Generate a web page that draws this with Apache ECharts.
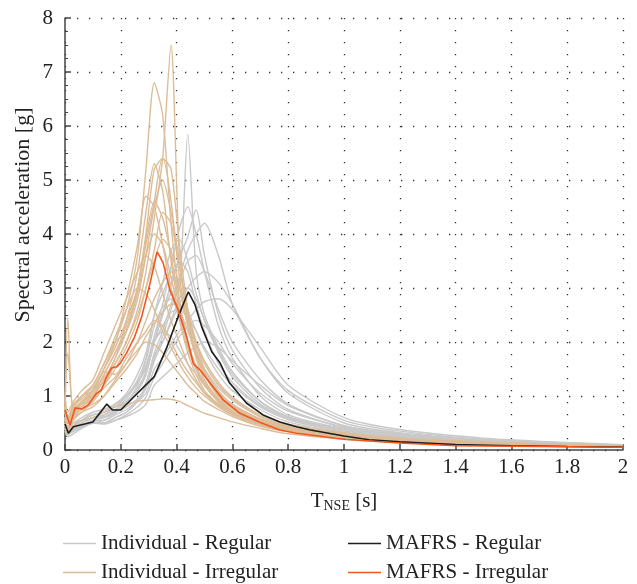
<!DOCTYPE html>
<html><head><meta charset="utf-8">
<script src="https://cdn.jsdelivr.net/npm/echarts@6/dist/echarts.min.js"></script>
<style>html,body{margin:0;padding:0;background:#fff}#c{width:637px;height:584px}</style>
</head><body><div id="c"></div>
<script>
// Period grid shared by the individual spectra [s]
const periods = [0,0.01,0.03,0.06,0.1,0.14,0.18,0.22,0.26,0.29,0.32,0.35,0.38,0.41,0.44,0.47,0.5,0.55,0.6,0.7,0.8,1.0,1.2,1.5,1.8,2.0];

// Individual - Regular spectra [g]
const reg01 = [0.4,0.3,0.35,0.45,0.55,0.6,0.7,0.85,1.1,1.4,2.0,2.5,2.9,3.0,5.85,3.3,2.5,1.9,1.45,0.9,0.6,0.38,0.25,0.15,0.1,0.08];
const reg02 = [0.5,0.4,0.45,0.5,0.6,0.65,0.75,0.9,1.15,1.45,2.1,2.7,3.4,4.1,4.5,4.0,3.3,2.3,1.7,1.0,0.65,0.4,0.27,0.16,0.11,0.08];
const reg03 = [0.5,0.35,0.4,0.5,0.6,0.6,0.7,0.8,0.95,1.2,1.8,2.2,2.7,3.2,3.7,4.0,4.2,3.6,2.7,1.7,1.05,0.5,0.32,0.19,0.13,0.09];
const reg04 = [0.45,0.3,0.4,0.5,0.6,0.65,0.8,1.0,1.3,1.7,2.5,3.1,3.7,3.9,3.5,2.9,2.4,1.8,1.35,0.85,0.6,0.37,0.25,0.15,0.1,0.07];
const reg05 = [0.4,0.3,0.35,0.45,0.5,0.5,0.6,0.7,0.9,1.15,1.7,2.1,2.6,3.1,3.5,3.6,3.3,2.6,2.0,1.3,0.85,0.45,0.3,0.18,0.12,0.08];
const reg06 = [0.6,0.4,0.5,0.55,0.65,0.7,0.8,0.9,1.05,1.25,1.75,2.0,2.35,2.7,3.0,3.2,3.3,3.1,2.7,1.7,1.1,0.55,0.35,0.2,0.13,0.09];
const reg07 = [0.5,0.35,0.45,0.55,0.7,0.75,0.85,1.05,1.4,1.8,2.5,2.9,3.2,3.0,2.6,2.2,1.85,1.4,1.1,0.75,0.52,0.33,0.22,0.14,0.09,0.07];
const reg08 = [0.35,0.25,0.3,0.4,0.5,0.5,0.6,0.7,0.9,1.15,1.65,2.0,2.4,2.8,3.0,2.8,2.4,1.85,1.4,0.9,0.62,0.38,0.25,0.15,0.1,0.07];
const reg09 = [0.45,0.3,0.35,0.45,0.55,0.55,0.65,0.75,0.9,1.05,1.5,1.7,1.95,2.2,2.4,2.6,2.75,2.8,2.6,1.9,1.2,0.6,0.38,0.22,0.14,0.1];
const reg10 = [0.55,0.4,0.5,0.6,0.7,0.75,0.85,1.0,1.25,1.5,2.0,2.3,2.55,2.6,2.45,2.2,1.9,1.5,1.2,0.8,0.56,0.35,0.24,0.15,0.1,0.07];
const reg11 = [0.4,0.28,0.35,0.42,0.5,0.48,0.55,0.65,0.8,0.98,1.35,1.6,1.85,2.1,2.3,2.4,2.3,2.0,1.6,1.05,0.72,0.42,0.28,0.17,0.11,0.08];
const reg12 = [0.5,0.38,0.45,0.55,0.65,0.7,0.8,0.95,1.25,1.55,2.0,2.2,2.1,1.85,1.6,1.4,1.2,0.95,0.78,0.55,0.4,0.27,0.19,0.12,0.08,0.06];
const reg13 = [0.45,0.3,0.38,0.45,0.52,0.5,0.55,0.62,0.72,0.85,1.2,1.35,1.5,1.65,1.8,1.92,2.0,1.9,1.65,1.2,0.82,0.45,0.3,0.18,0.12,0.08];
const reg14 = [0.5,0.3,0.4,0.5,0.6,0.62,0.72,0.85,1.1,1.4,2.0,2.5,3.1,3.5,3.3,2.7,2.2,1.6,1.25,0.82,0.58,0.36,0.24,0.15,0.1,0.07];
const reg15 = [0.6,0.45,0.5,0.55,0.65,0.7,0.85,1.0,1.25,1.55,2.1,2.55,3.05,3.55,3.95,4.45,3.6,2.5,1.85,1.15,0.75,0.42,0.28,0.17,0.11,0.08];
const reg16 = [0.4,0.3,0.35,0.42,0.5,0.55,0.68,0.88,1.2,1.65,2.3,2.65,2.8,2.6,2.2,1.8,1.5,1.15,0.92,0.62,0.45,0.3,0.21,0.13,0.09,0.06];

// Individual - Irregular spectra [g]
const irr01 = [0.8,0.5,0.7,0.85,0.9,1.2,1.6,2.0,2.6,3.3,4.3,5.4,7.5,3.6,2.4,1.8,1.4,1.0,0.8,0.55,0.4,0.28,0.2,0.13,0.09,0.07];
const irr02 = [0.9,0.6,0.8,1.0,1.1,1.5,2.0,2.6,3.6,5.2,6.8,6.2,4.2,2.8,2.0,1.5,1.2,0.9,0.7,0.5,0.38,0.26,0.18,0.12,0.08,0.06];
const irr03 = [0.7,2.45,0.6,0.9,1.0,1.4,1.8,2.3,3.0,4.0,5.2,5.4,4.6,3.2,2.3,1.7,1.3,0.95,0.75,0.52,0.4,0.27,0.19,0.12,0.08,0.06];
const irr04 = [0.6,0.4,0.7,0.8,1.0,1.3,1.7,2.4,3.3,4.4,5.3,4.8,3.5,2.6,1.9,1.5,1.2,0.9,0.72,0.5,0.38,0.25,0.18,0.12,0.08,0.06];
const irr05 = [0.9,1.8,0.8,1.0,1.2,1.6,2.0,2.2,2.8,3.6,4.5,5.0,4.4,3.5,2.5,1.8,1.4,1.0,0.8,0.55,0.42,0.3,0.2,0.14,0.1,0.07];
const irr06 = [0.8,0.5,0.7,0.9,1.1,1.5,2.0,2.8,3.8,4.7,4.5,3.8,3.0,2.4,1.8,1.4,1.1,0.85,0.68,0.48,0.36,0.24,0.17,0.11,0.08,0.06];
const irr07 = [0.6,0.3,0.6,0.8,0.95,1.2,1.5,1.9,2.4,3.0,3.7,4.4,4.2,3.4,2.6,2.0,1.5,1.1,0.85,0.58,0.43,0.3,0.21,0.14,0.1,0.07];
const irr08 = [0.7,0.6,0.75,0.9,1.05,1.4,1.8,2.2,2.9,3.6,4.0,3.8,3.2,2.5,1.9,1.5,1.2,0.9,0.7,0.5,0.37,0.25,0.18,0.12,0.08,0.06];
const irr09 = [1.0,0.7,0.9,1.1,1.3,1.8,2.3,2.8,3.3,3.6,3.4,2.9,2.4,2.0,1.6,1.3,1.05,0.82,0.66,0.46,0.35,0.24,0.17,0.11,0.08,0.06];
const irr10 = [0.5,0.35,0.55,0.7,0.8,1.0,1.3,1.6,2.0,2.4,2.8,3.1,3.3,3.0,2.5,2.0,1.6,1.2,0.95,0.62,0.45,0.3,0.21,0.14,0.1,0.07];
const irr11 = [0.9,0.6,0.8,1.0,1.2,1.6,2.1,2.6,3.0,2.9,2.6,2.2,1.9,1.6,1.35,1.15,1.0,0.8,0.65,0.47,0.36,0.25,0.18,0.12,0.08,0.06];
const irr12 = [0.6,0.4,0.6,0.75,0.85,1.0,1.25,1.5,1.8,2.1,2.35,2.55,2.7,2.7,2.4,2.0,1.65,1.25,0.98,0.65,0.48,0.32,0.22,0.15,0.1,0.07];
const irr13 = [0.7,0.5,0.7,0.85,1.1,1.45,1.4,1.7,2.0,2.2,2.4,2.3,2.0,1.7,1.45,1.25,1.05,0.85,0.7,0.5,0.38,0.26,0.18,0.12,0.08,0.06];
const irr14 = [0.5,0.3,0.45,0.55,0.6,0.7,0.8,0.85,0.9,0.92,0.93,0.95,0.94,0.9,0.82,0.75,0.68,0.6,0.52,0.4,0.3,0.2,0.14,0.1,0.07,0.05];
const irr15 = [0.8,0.6,0.85,1.0,1.15,1.5,1.9,2.4,3.0,3.8,4.6,5.4,5.2,3.8,2.6,1.9,1.45,1.05,0.8,0.55,0.41,0.28,0.19,0.13,0.09,0.06];
const irr16 = [0.7,0.5,0.65,0.85,1.0,1.3,1.7,2.2,3.0,3.9,4.6,4.3,3.6,2.7,2.0,1.55,1.25,0.92,0.72,0.5,0.38,0.26,0.18,0.12,0.08,0.06];
const irr17 = [0.8,0.5,0.8,0.95,1.1,1.35,1.6,2.0,2.5,3.0,3.5,3.9,3.7,3.0,2.3,1.75,1.4,1.05,0.82,0.56,0.42,0.29,0.2,0.13,0.09,0.06];
const irr18 = [0.6,0.4,0.6,0.7,0.9,1.15,1.35,1.6,1.85,2.0,1.95,1.8,1.6,1.4,1.2,1.05,0.9,0.75,0.62,0.44,0.34,0.23,0.16,0.11,0.08,0.05];

// MAFRS - Regular
const mafrsRegT = [0,0.012,0.03,0.1,0.15,0.17,0.2,0.26,0.32,0.365,0.405,0.442,0.466,0.49,0.526,0.556,0.59,0.65,0.71,0.77,0.83,0.88,1.0,1.09,1.2,1.4,1.6,1.8,2.0];
const mafrsRegSa = [0.48,0.31,0.43,0.52,0.85,0.74,0.74,1.05,1.36,1.9,2.46,2.93,2.69,2.28,1.82,1.61,1.24,0.87,0.65,0.52,0.43,0.37,0.26,0.19,0.15,0.1,0.08,0.065,0.055];

// MAFRS - Irregular
const mafrsIrrT = [0,0.018,0.036,0.06,0.084,0.113,0.13,0.15,0.167,0.185,0.197,0.22,0.25,0.275,0.305,0.33,0.34,0.352,0.376,0.406,0.436,0.46,0.484,0.52,0.567,0.627,0.7,0.77,0.83,1.0,1.2,1.4,1.6,1.8,2.0];
const mafrsIrrSa = [0.74,0.46,0.78,0.76,0.84,1.05,1.11,1.36,1.52,1.54,1.6,1.79,2.1,2.47,3.09,3.67,3.58,3.46,2.96,2.59,2.1,1.6,1.48,1.24,0.93,0.68,0.51,0.37,0.31,0.2,0.13,0.08,0.07,0.06,0.05];

const xTicks = [0,0.2,0.4,0.6,0.8,1,1.2,1.4,1.6,1.8,2];
const yTicks = [0,1,2,3,4,5,6,7,8];

const regularSet = [reg01,reg02,reg03,reg04,reg05,reg06,reg07,reg08,reg09,reg10,reg11,reg12,reg13,reg14,reg15,reg16];
const irregularSet = [irr01,irr02,irr03,irr04,irr05,irr06,irr07,irr08,irr09,irr10,irr11,irr12,irr13,irr14,irr15,irr16,irr17,irr18];

const FONT = 'Liberation Serif';
const C_REG = '#c9c9c9', C_IRR = '#dcbd98', C_MREG = '#1e1e1e', C_MIRR = '#f2561d';

function pairs(xs, ys){ return xs.map((x,i)=>[x, ys[i]]); }

const series = [];
regularSet.forEach(v => series.push({
  name:'Individual - Regular', type:'line', data: pairs(periods, v), symbol:'none', smooth:0.25,
  lineStyle:{color:C_REG, width:1.4}, itemStyle:{color:C_REG}, z:2
}));
irregularSet.forEach(v => series.push({
  name:'Individual - Irregular', type:'line', data: pairs(periods, v), symbol:'none', smooth:0.25,
  lineStyle:{color:C_IRR, width:1.4}, itemStyle:{color:C_IRR}, z:3
}));
series.push({name:'MAFRS - Regular', type:'line', data: pairs(mafrsRegT, mafrsRegSa), symbol:'none',
  lineStyle:{color:C_MREG, width:1.6}, itemStyle:{color:C_MREG}, z:5});
series.push({name:'MAFRS - Irregular', type:'line', data: pairs(mafrsIrrT, mafrsIrrSa), symbol:'none',
  lineStyle:{color:C_MIRR, width:1.6}, itemStyle:{color:C_MIRR}, z:6});

const legendBase = {
  itemWidth: 33, itemHeight: 12, itemGap: 8, icon: 'path://M0,6L33,6L33,7.5L0,7.5Z',
  textStyle:{fontFamily:FONT, fontSize:21, color:'#222'}, selectedMode:false
};

const chart = echarts.init(document.getElementById('c'), null, {renderer:'canvas'});
chart.setOption({
  animation:false,
  backgroundColor:'#fff',
  grid:{left:65, right:14, top:18, bottom:134},
  xAxis:{
    type:'value', min:xTicks[0], max:xTicks[xTicks.length-1], interval:0.2,
    name:'{a|T}{b|NSE}{a| [s]}', nameLocation:'middle', nameGap:39,
    nameTextStyle:{rich:{
      a:{fontFamily:FONT, fontSize:21, color:'#222'},
      b:{fontFamily:FONT, fontSize:14, color:'#222', padding:[10,0,0,0]}
    }},
    axisLine:{show:true, lineStyle:{color:'#444', width:1.5}},
    axisTick:{show:true, inside:true, length:6, lineStyle:{color:'#444', width:1.5}},
    axisLabel:{fontFamily:FONT, fontSize:21, color:'#222', margin:7,
      formatter: v => String(Math.round(v*10)/10)},
    splitLine:{show:true, lineStyle:{color:'#333', width:1.3, type:[1.3,10.7]}}
  },
  yAxis:{
    type:'value', min:yTicks[0], max:yTicks[yTicks.length-1], interval:1,
    axisLine:{show:true, lineStyle:{color:'#444', width:1.5}},
    axisTick:{show:true, inside:true, length:6, lineStyle:{color:'#444', width:1.5}},
    minorTick:{show:true, splitNumber:4, length:3, lineStyle:{color:'#444'}},
    axisLabel:{fontFamily:FONT, fontSize:21, color:'#222', margin:12},
    splitLine:{show:true, lineStyle:{color:'#333', width:1.3, type:[1.3,10.7]}}
  },
  graphic:[{
    type:'text', x:23, y:215, rotation:Math.PI/2, z:10,
    style:{text:'Spectral acceleration [g]', fontFamily:FONT, fontSize:22, fill:'#222',
      textAlign:'center', textVerticalAlign:'middle'}
  }],
  legend:[
    Object.assign({data:['Individual - Regular'], left:58, top:528}, legendBase),
    Object.assign({data:['Individual - Irregular'], left:58, top:557}, legendBase),
    Object.assign({data:['MAFRS - Regular'], left:343, top:528}, legendBase),
    Object.assign({data:['MAFRS - Irregular'], left:343, top:557}, legendBase)
  ],
  series: series
});
</script>
</body></html>
